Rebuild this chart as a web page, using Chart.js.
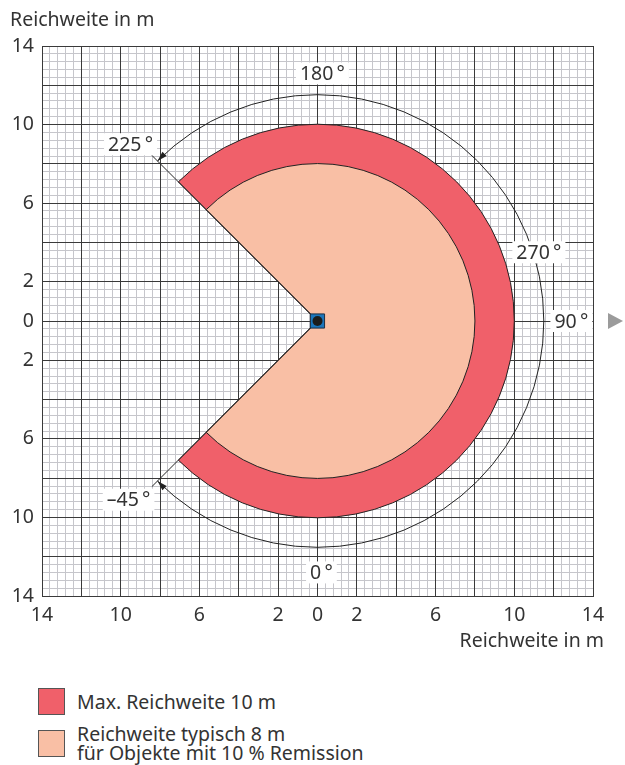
<!DOCTYPE html>
<html lang="de">
<head>
<meta charset="utf-8">
<script src="https://cdn.jsdelivr.net/npm/chart.js@4.4.0/dist/chart.umd.min.js"></script>
<style>
  body { margin: 0; background: #fff; }
  #wrap { position: relative; width: 625px; height: 765px; font-family: 'Noto Sans', sans-serif; font-size: 19.5px; color: #333; }
  #chart { position: absolute; left: 0; top: 0; }
  .axis-title { position: absolute; line-height: 22px; white-space: nowrap; }
  #legend { position: absolute; left: 38px; top: 688px; }
  .item { display: flex; align-items: center; margin-bottom: 9px; }
  .box { width: 25px; height: 25px; border: 1px solid #555; margin-right: 12px; flex: none; }
  .item span { line-height: 19px; white-space: pre; }
</style>
</head>
<body>
<div id="wrap">
  <canvas id="chart" width="625" height="665"></canvas>
  <div class="axis-title" style="left:10px; top:8px">Reichweite in m</div>
  <div class="axis-title" style="right:21px; top:629px">Reichweite in m</div>
  <div id="legend"></div>
</div>
<script>
// Achsenbeschriftung (Meter)
const axisTickValues = [-14, -10, -6, -2, 0, 2, 6, 10, 14];
const axisTickLabels = ['14', '10', '6', '2', '0', '2', '6', '10', '14'];

// Reichweitenfelder: Radius in m
const rangeLabels = ['Max. Reichweite 10 m', 'Reichweite typisch 8 m\nfür Objekte mit 10 % Remission'];
const rangeRadii = [10, 8];
const rangeColors = ['#f0606a', '#f9bfa5'];

// Scanwinkel in Grad (Geräte-Koordinaten, 0° = unten)
const scanStart = -45;
const scanEnd = 225;

// Sensorposition
const sensorX = [0];
const sensorY = [0];

// Winkelangaben am Bogen
const angleTexts = ['180\u2009°', '270\u2009°', '90\u2009°', '0\u2009°', '225\u2009°', '–45\u2009°'];
const angleTextX = [0.25, 11.25, 12.9, 0.2, -9.5, -9.6];
const angleTextY = [12.6, 3.5, 0, -12.8, 9.0, -9.1];

Chart.defaults.font.family = "'Noto Sans', sans-serif";
Chart.defaults.font.size = 19.5;
Chart.defaults.color = '#333';

const toRad = a => (90 - a) * Math.PI / 180;

function stepTicks(step) {
    const out = [];
    const n = Math.round(28 / step);
    for (let i = 0; i <= n; i++) out.push({ value: Math.round((-14 + i * step) * 100) / 100 });
    return out;
}

const scanFieldPlugin = {
    id: 'scanField',
    beforeDatasetsDraw(chart) {
        const { ctx, scales: { x, y } } = chart;
        const cx = x.getPixelForValue(sensorX[0]);
        const cy = y.getPixelForValue(sensorY[0]);
        const px = m => x.getPixelForValue(m) - x.getPixelForValue(0);
        const a0 = toRad(scanEnd);
        const a1 = toRad(scanStart);
        ctx.save();
        ctx.lineWidth = 1;
        ctx.strokeStyle = '#222';
        rangeRadii.forEach((r, i) => {
            ctx.beginPath();
            ctx.moveTo(cx, cy);
            ctx.arc(cx, cy, px(r), a0, a1);
            ctx.closePath();
            ctx.fillStyle = rangeColors[i];
            ctx.fill();
            ctx.stroke();
        });

        // Begrenzungslinien des Scanfelds
        const edge = px(11.9);
        ctx.beginPath();
        ctx.moveTo(cx, cy);
        ctx.lineTo(cx + edge * Math.cos(a0), cy + edge * Math.sin(a0));
        ctx.moveTo(cx, cy);
        ctx.lineTo(cx + edge * Math.cos(a1), cy + edge * Math.sin(a1));
        ctx.stroke();

        // Winkelbogen mit Pfeilspitzen
        const R = px(11.5);
        ctx.beginPath();
        ctx.arc(cx, cy, R, a0, a1);
        ctx.stroke();
        const arrow = (a, dx, dy) => {
            const tx = cx + R * Math.cos(a), ty = cy + R * Math.sin(a);
            const bx = tx - dx * 10, by = ty - dy * 10;
            ctx.beginPath();
            ctx.moveTo(tx, ty);
            ctx.lineTo(bx - dy * 3, by + dx * 3);
            ctx.lineTo(bx + dy * 3, by - dx * 3);
            ctx.closePath();
            ctx.fillStyle = '#222';
            ctx.fill();
        };
        arrow(a0, Math.sin(a0), -Math.cos(a0));
        arrow(a1, -Math.sin(a1), Math.cos(a1));

        // Winkeltexte mit weißem Hintergrund
        ctx.font = "19.5px 'Noto Sans', sans-serif";
        ctx.textAlign = 'center';
        ctx.textBaseline = 'middle';
        angleTexts.forEach((t, i) => {
            const lx = x.getPixelForValue(angleTextX[i]);
            const ly = y.getPixelForValue(angleTextY[i]);
            const w = ctx.measureText(t).width + 8;
            ctx.fillStyle = '#fff';
            ctx.fillRect(lx - w / 2, ly - 11, w, 22);
            ctx.fillStyle = '#333';
            ctx.fillText(t, lx, ly + 1);
        });
        ctx.restore();
    },
    afterDraw(chart) {
        const { ctx, chartArea, scales: { y } } = chart;
        const cy = y.getPixelForValue(0);
        const bx = chartArea.right + 15;
        ctx.save();
        ctx.beginPath();
        ctx.moveTo(bx, cy - 8);
        ctx.lineTo(bx + 15, cy);
        ctx.lineTo(bx, cy + 8);
        ctx.closePath();
        ctx.fillStyle = '#9b9b9b';
        ctx.fill();
        ctx.restore();
    }
};

const minorGrid = { color: '#c6c6cb', lineWidth: 1, drawTicks: false, z: -2 };
const majorGrid = { color: '#3a3a3a', lineWidth: 1, drawTicks: false };
const tickLabel = v => {
    const i = axisTickValues.indexOf(v);
    return i >= 0 ? axisTickLabels[i] : '';
};

const points = sensorX.map((v, i) => ({ x: v, y: sensorY[i] }));

new Chart(document.getElementById('chart'), {
    type: 'scatter',
    data: {
        datasets: [{
            label: 'Sensor',
            data: points,
            pointStyle: 'circle',
            pointRadius: 5,
            backgroundColor: '#1c1c1c',
            borderWidth: 0
        }, {
            label: 'Gehäuse',
            data: points,
            pointStyle: 'rect',
            pointRadius: 10,
            backgroundColor: '#1b75bb',
            borderColor: '#1e2f44',
            borderWidth: 1
        }]
    },
    options: {
        responsive: false,
        animation: false,
        events: [],
        layout: { padding: { top: 46, right: 32, left: 0, bottom: 0 } },
        plugins: { legend: { display: false }, tooltip: { enabled: false } },
        scales: {
            xMinor: {
                type: 'linear', position: 'bottom', min: -14, max: 14,
                afterBuildTicks: s => { s.ticks = stepTicks(0.4); },
                afterFit: s => { s.height = 0; },
                ticks: { display: false },
                grid: minorGrid,
                border: { display: false }
            },
            yMinor: {
                type: 'linear', position: 'left', min: -14, max: 14,
                afterBuildTicks: s => { s.ticks = stepTicks(0.4); },
                afterFit: s => { s.width = 0; },
                ticks: { display: false },
                grid: minorGrid,
                border: { display: false }
            },
            x: {
                type: 'linear', position: 'bottom', min: -14, max: 14,
                afterBuildTicks: s => { s.ticks = stepTicks(2); },
                afterFit: s => { s.height = 69; },
                ticks: { callback: tickLabel, padding: 8, maxRotation: 0, minRotation: 0, autoSkip: false },
                grid: majorGrid,
                border: { display: true, color: '#3a3a3a' }
            },
            y: {
                type: 'linear', position: 'left', min: -14, max: 14,
                afterBuildTicks: s => { s.ticks = stepTicks(2); },
                afterFit: s => { s.width = 42; },
                ticks: { callback: tickLabel, padding: 8, autoSkip: false },
                grid: majorGrid,
                border: { display: true, color: '#3a3a3a' }
            }
        }
    },
    plugins: [scanFieldPlugin]
});

// Legende
const legend = document.getElementById('legend');
rangeLabels.forEach((t, i) => {
    const item = document.createElement('div');
    item.className = 'item';
    const box = document.createElement('div');
    box.className = 'box';
    box.style.background = rangeColors[i];
    const span = document.createElement('span');
    span.textContent = t;
    item.appendChild(box);
    item.appendChild(span);
    legend.appendChild(item);
});
</script>
</body>
</html>
